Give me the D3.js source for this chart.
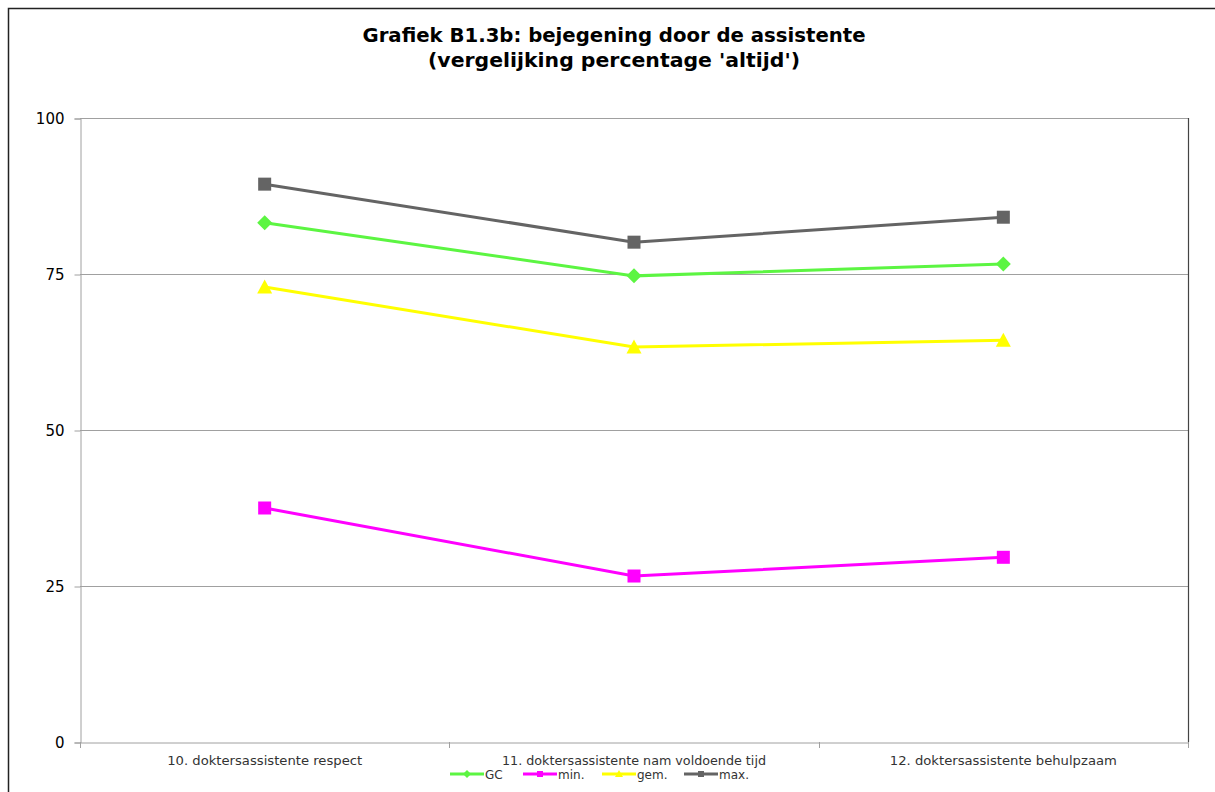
<!DOCTYPE html>
<html><head><meta charset="utf-8">
<script src="https://cdn.jsdelivr.net/npm/d3@7"></script>
<style>body{margin:0;background:#fff;} svg{display:block;}</style>
</head><body>
<svg id="c" width="1215" height="792"></svg>
<script>
const categories = ["10. doktersassistente respect","11. doktersassistente nam voldoende tijd","12. doktersassistente behulpzaam"];
const seriesNames = ["GC","min.","gem.","max."];
const gcValues  = [83.2, 74.7, 76.6];
const minValues = [37.5, 26.6, 29.6];
const gemValues = [72.9, 63.3, 64.4];
const maxValues = [89.4, 80.1, 84.1];
const yTicks = [0, 25, 50, 75, 100];
const titleLines = ["Grafiek B1.3b: bejegening door de assistente","(vergelijking percentage 'altijd')"];

const series = [
  {name: seriesNames[0], values: gcValues,  color: "#5cf542", marker: "diamond"},
  {name: seriesNames[1], values: minValues, color: "#ff00ff", marker: "square"},
  {name: seriesNames[2], values: gemValues, color: "#ffff00", marker: "triangle"},
  {name: seriesNames[3], values: maxValues, color: "#646464", marker: "square"}
];

const svg = d3.select("#c");
const L = 80, R = 1188, T = 118, B = 742;

// outer border
svg.append("path").attr("d","M8.5,800 V8.5 H1230").attr("fill","none").attr("stroke","#222").attr("stroke-width",1.5);

// title
svg.append("text").attr("x",614).attr("y",42).attr("text-anchor","middle")
  .attr("font-family","DejaVu Sans, Verdana, sans-serif").attr("font-weight","bold").attr("font-size",20)
  .attr("textLength",503).attr("lengthAdjust","spacingAndGlyphs").text(titleLines[0]);
svg.append("text").attr("x",614).attr("y",67).attr("text-anchor","middle")
  .attr("font-family","DejaVu Sans, Verdana, sans-serif").attr("font-weight","bold").attr("font-size",20)
  .attr("textLength",372).attr("lengthAdjust","spacingAndGlyphs").text(titleLines[1]);

const x = d3.scaleBand().domain(categories).range([L, R]).padding(0);
const y = d3.scaleLinear().domain([0,100]).range([B, T]);

// gridlines
svg.append("g").selectAll("line").data(yTicks.filter(d=>d>0)).join("line")
  .attr("x1",L).attr("x2",R).attr("y1",d=>y(d)+0.5).attr("y2",d=>y(d)+0.5)
  .attr("stroke","#a0a0a0").attr("stroke-width",1);
// right border
svg.append("line").attr("x1",R+0.5).attr("x2",R+0.5).attr("y1",T).attr("y2",B).attr("stroke","#444").attr("stroke-width",1.2);

// y axis
const yAxis = svg.append("g").attr("transform",`translate(${L+0.5},0.5)`)
  .call(d3.axisLeft(y).tickValues(yTicks).tickSize(6).tickPadding(10));
yAxis.select(".domain").attr("stroke","#a0a0a0");
yAxis.selectAll(".tick line").attr("stroke","#a0a0a0");
yAxis.selectAll(".tick text").attr("font-family","DejaVu Sans, Verdana, sans-serif").attr("font-size",15).attr("fill","#000");

// x axis
const xAxis = svg.append("g").attr("transform",`translate(0,${B+0.5})`)
  .call(d3.axisBottom(x).tickSize(0).tickPadding(14));
xAxis.select(".domain").attr("stroke","#a0a0a0");
xAxis.selectAll(".tick text").attr("font-family","DejaVu Sans, Verdana, sans-serif").attr("font-size",12).attr("fill","#333")
  .attr("textLength",function(d,i){return [195,264,227][i];}).attr("lengthAdjust","spacingAndGlyphs");
const bounds = categories.map(c=>x(c)).concat([R]);
svg.append("g").selectAll("line").data(bounds).join("line")
  .attr("x1",d=>Math.round(d)+0.5).attr("x2",d=>Math.round(d)+0.5).attr("y1",B).attr("y2",B+6)
  .attr("stroke","#a0a0a0");

const cx = c => x(c) + x.bandwidth()/2;
const line = d3.line().x((d,i)=>cx(categories[i])).y(d=>y(d));

function marker(g, type, color, size){
  if(type==="square") g.append("rect").attr("x",-size/2).attr("y",-size/2).attr("width",size).attr("height",size).attr("fill",color);
  else if(type==="diamond") g.append("path").attr("d",`M0,${-size/2-1}L${size/2+1},0L0,${size/2+1}L${-size/2-1},0Z`).attr("fill",color);
  else g.append("path").attr("d",`M0,${-size/2-1}L${size/2+1},${size/2}L${-size/2-1},${size/2}Z`).attr("fill",color);
}

series.forEach(s=>{
  svg.append("path").datum(s.values).attr("d",line).attr("fill","none").attr("stroke",s.color).attr("stroke-width",3);
  s.values.forEach((v,i)=>{
    const g = svg.append("g").attr("transform",`translate(${cx(categories[i])},${y(v)})`);
    marker(g, s.marker, s.color, 13);
  });
});

// legend
const legendX = [450, 523, 602, 684];
const ly = 774;
series.forEach((s,i)=>{
  const g = svg.append("g").attr("transform",`translate(${legendX[i]},${ly})`);
  g.append("line").attr("x1",0).attr("x2",34).attr("y1",0).attr("y2",0).attr("stroke",s.color).attr("stroke-width",3);
  const m = g.append("g").attr("transform","translate(17,0)");
  marker(m, s.marker, s.color, 6);
  g.append("text").attr("x",35).attr("y",4.5).attr("font-family","DejaVu Sans, Verdana, sans-serif").attr("font-size",12).attr("fill","#333").text(s.name);
});
</script>
</body></html>
